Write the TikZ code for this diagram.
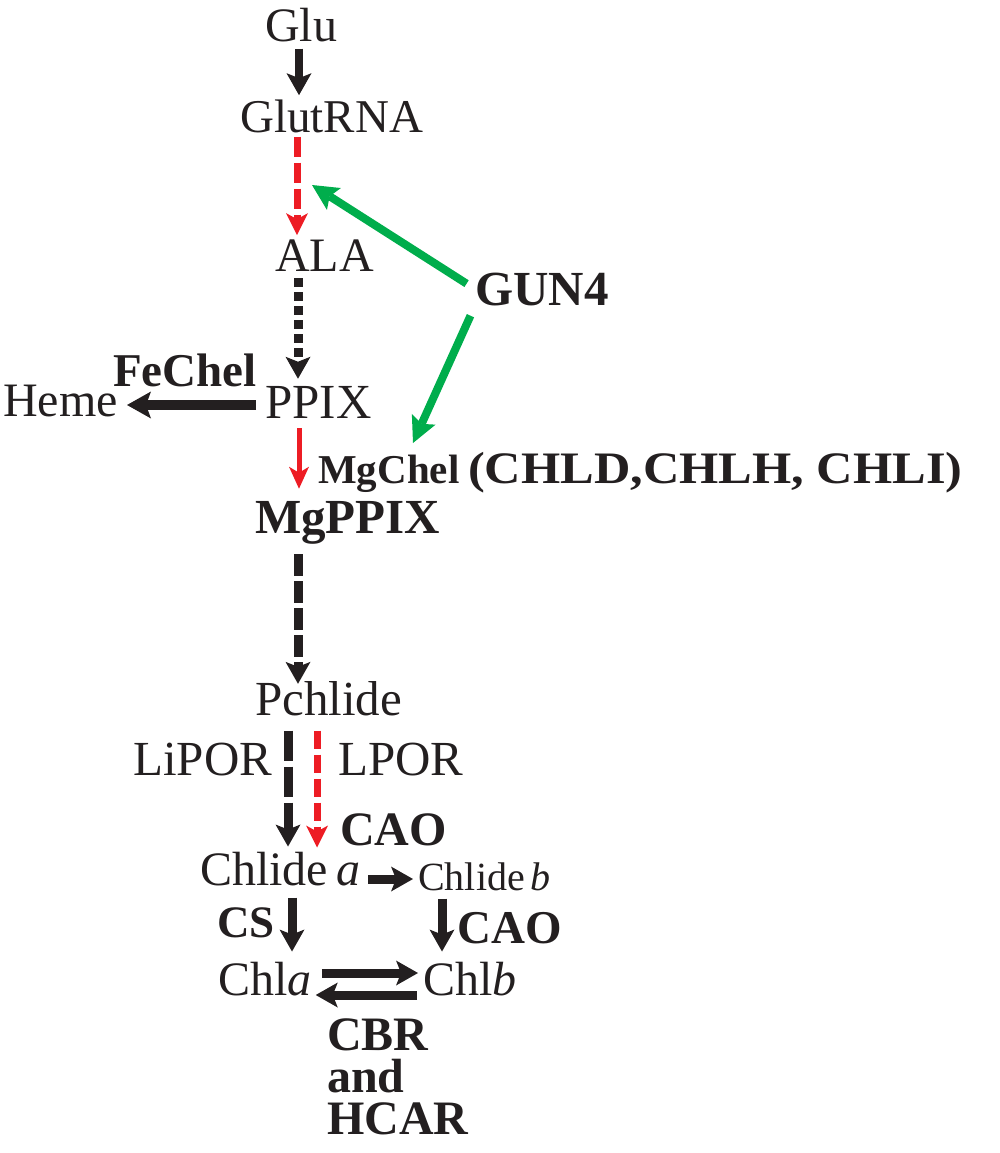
\documentclass[tikz,border=0pt]{standalone}
\usepackage{fontspec}
\setmainfont{Liberation Serif}
\usetikzlibrary{arrows.meta}
\newcommand\myfs[1]{\fontsize{#1}{#1}\selectfont}
\definecolor{myred}{RGB}{237,28,36}
\definecolor{mygreen}{RGB}{0,173,76}
\definecolor{myblack}{RGB}{35,31,32}
\begin{document}
\begin{tikzpicture}[x=1pt,y=-1pt,
  lbl/.style={inner sep=0pt, anchor=base west, text=myblack},
  bl/.style={lbl, font=\bfseries\myfs{#1}},
  rg/.style={lbl, font=\myfs{#1}},
  blk/.style={draw=myblack, line width=9pt, -{Stealth[length=22pt,width=25pt,inset=5pt,line width=0pt]}},
  blkdash/.style={blk, dash pattern=on 22pt off 5pt},
  blkdot/.style={blk, dash pattern=on 9pt off 5pt},
  redd/.style={draw=myred, line width=7pt, dash pattern=on 20pt off 6pt, -{Stealth[length=22pt,width=22pt,inset=6pt,line width=0pt]}},
  reds/.style={draw=myred, line width=5pt, -{Stealth[length=22pt,width=20pt,inset=6pt,line width=0pt]}},
  grn/.style={draw=mygreen, line width=8pt, -{Stealth[length=26pt,width=26pt,inset=5pt,line width=0pt]}}
]
\useasboundingbox (0,0) rectangle (1000,1153);
% columns and rows
\coordinate (c288) at (288,0);
\coordinate (c292) at (292,0);
\coordinate (c297) at (297,0);
\coordinate (c298) at (298,0);
\coordinate (c299) at (299,0);
\coordinate (c317) at (317,0);
\coordinate (c442) at (442,0);
\coordinate (r405) at (0,405);
\coordinate (r879) at (0,879);
\coordinate (r973) at (0,973);
\coordinate (r995) at (0,995);
\coordinate (g1) at (312,185);
\coordinate (g2) at (413,443);
% nodes
\node[rg=48] (glu) at (265,42) {Glu};
\node[rg=47] (glutrna) at (240,132) {GlutRNA};
\node[rg=48] (ala) at (275,271) {ALA};
\node[bl=49] (gun4) at (475,305) {GUN4};
\node[bl=47] (fechel) at (113,386) {FeChel};
\node[rg=48] (heme) at (3,416) {Heme};
\node[rg=49] (ppix) at (265,418) {PPIX};
\node[bl=41] (mgchel) at (318,483) {MgChel};
\node[lbl, font=\bfseries\myfs{45}] (chl) at (468,483) {\scalebox{1.12}[1]{(CHLD,CHLH, CHLI)}};
\node[bl=49] (mgppix) at (255,533) {MgPPIX};
\node[rg=49] (pchlide) at (255,715) {Pchlide};
\node[rg=49] (lipor) at (133,775) {LiPOR};
\node[rg=49] (lpor) at (338,775) {LPOR};
\node[bl=48] (cao1) at (340,845) {CAO};
\node[rg=48] (chlidea) at (200,885) {Chlide\hspace{8pt}\textit{a}};
\node[rg=40] (chlideb) at (418,890) {Chlide\hspace{6pt}\textit{b}};
\node[bl=45] (cs) at (217,937) {CS};
\node[bl=47] (cao2) at (457,943) {CAO};
\node[rg=48] (chla) at (218,995) {Chl\textit{a}};
\node[rg=48] (chlb) at (423,995) {Chl\textit{b}};
\node[lbl, anchor=north west, align=left, font=\bfseries\fontsize{48}{42}\selectfont] (cbr) at (327,1019) {CBR\\and\\HCAR};
% connectors
\draw[blk, line width=8pt, shorten <=6pt, shorten >=4pt] (glu.south -| c299) -- (c299 |- glutrna.north);
\draw[redd, shorten <=4pt, shorten >=4pt] (glutrna.south -| c297) -- (c297 |- ala.north);
\draw[blkdot, shorten <=7pt, shorten >=7pt] (ala.south -| c298) -- (c298 |- ppix.north);
\draw[blk, line width=10pt, -{Stealth[length=24pt,width=27pt,inset=5pt,line width=0pt]}, shorten <=9pt, shorten >=9pt] (r405 -| ppix.west) -- (r405 -| heme.east);
\draw[reds, shorten <=10pt, shorten >=12pt] (ppix.south -| c299) -- (c299 |- mgppix.north);
\draw[grn, shorten <=10pt] (gun4.west) -- (g1);
\draw[grn, shorten <=11pt] (gun4.south west) -- (g2);
\draw[blkdash, shorten <=10pt, shorten >=-3pt] (mgppix.south -| c298) -- (c298 |- pchlide.north);
\draw[blk, dash pattern=on 30pt off 6pt, shorten <=15pt, shorten >=5pt] (pchlide.south -| c288) -- (c288 |- chlidea.north);
\draw[redd, dash pattern=on 18pt off 6pt, shorten <=15pt, shorten >=4pt] (pchlide.south -| c317) -- (c317 |- chlidea.north);
\draw[blk, shorten <=8pt, shorten >=5pt] (r879 -| chlidea.east) -- (r879 -| chlideb.west);
\draw[blk, shorten <=12pt, shorten >=10pt] (chlidea.south -| c292) -- (c292 |- chla.north);
\draw[blk, shorten <=8pt, shorten >=10pt] (chlideb.south -| c442) -- (c442 |- chlb.north);
\draw[blk, shorten <=10pt, shorten >=5pt] (r973 -| chla.east) -- (r973 -| chlb.west);
\draw[blk, shorten <=6pt, shorten >=4pt] (r995 -| chlb.west) -- (r995 -| chla.east);
\end{tikzpicture}
\end{document}
